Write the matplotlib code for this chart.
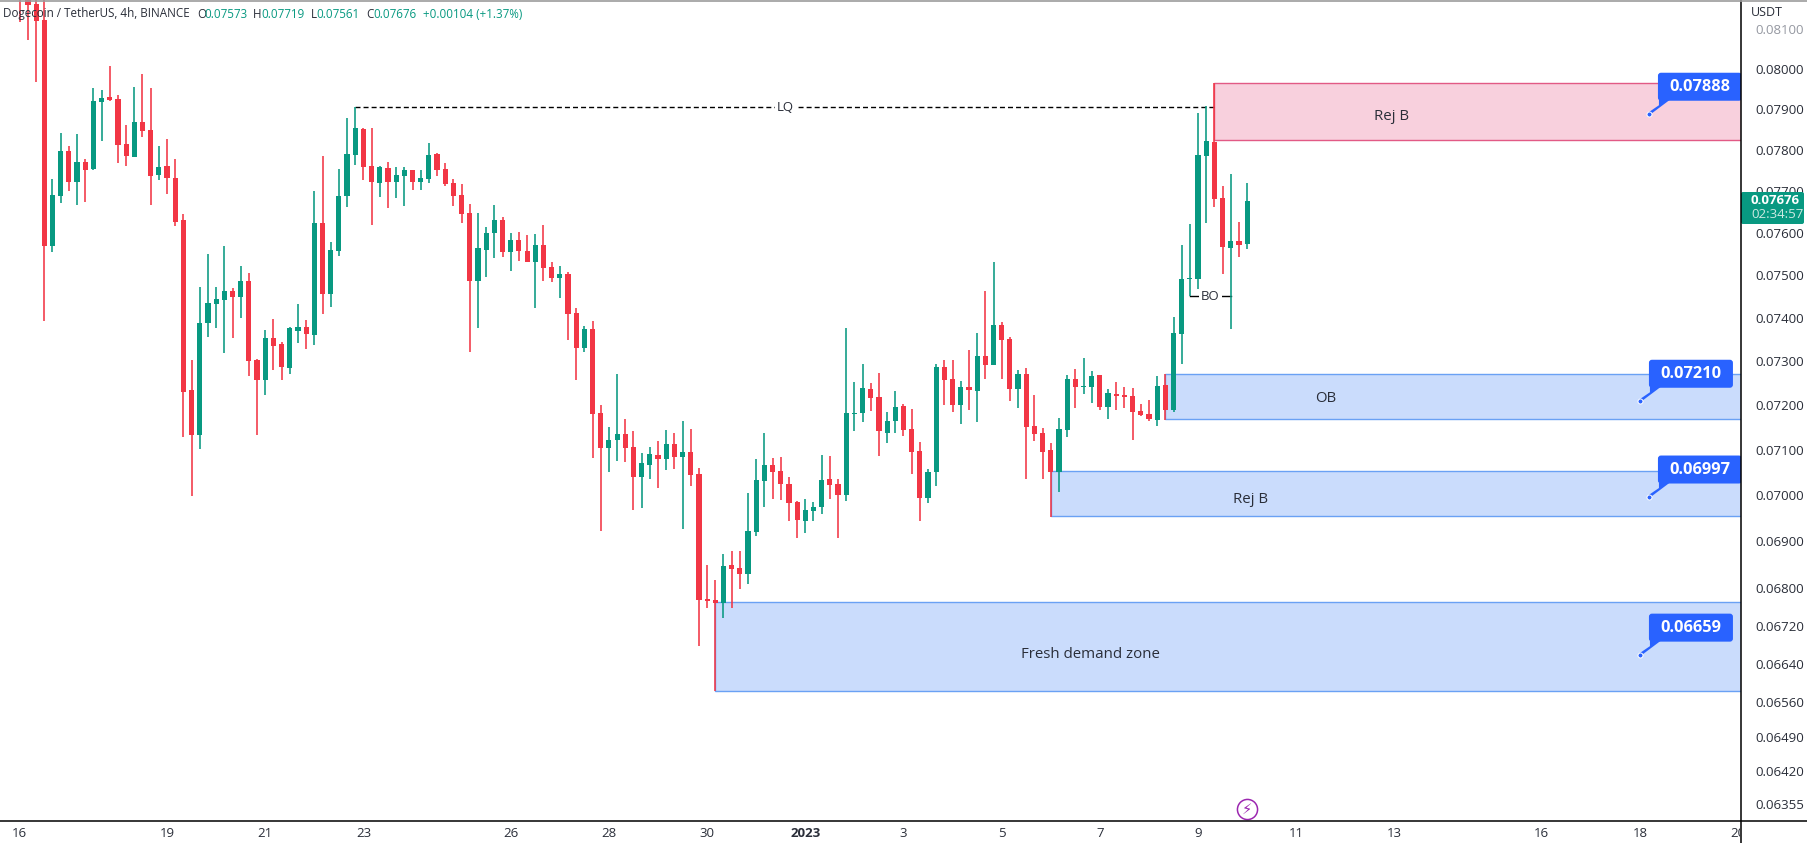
import numpy as np
import matplotlib
matplotlib.use("Agg")
import matplotlib.pyplot as plt
from matplotlib.patches import FancyBboxPatch, Polygon, Rectangle
from matplotlib.transforms import Affine2D, IdentityTransform
from matplotlib.ticker import NullLocator

plt.rcParams['font.family'] = ['Open Sans', 'DejaVu Sans']

# Precios, en unidades de 0.00001 USDT (velas de 4h)
first_bar = -3
opens = [8200, 8190, 8164, 8123, 7568, 7688, 7797, 7721, 7769, 7752, 7917, 7929, 7924, 7813, 7782, 7867, 7848, 7738, 7760, 7731,
         7630, 7235, 7134, 7388, 7432, 7441, 7462, 7448, 7486, 7303, 7258, 7354, 7340, 7285, 7370, 7379, 7361, 7623, 7455, 7556,
         7688, 7787, 7850, 7760, 7719, 7755, 7721, 7736, 7750, 7721, 7728, 7789, 7752, 7719, 7690, 7647, 7486, 7559, 7599, 7630,
         7554, 7582, 7556, 7530, 7570, 7518, 7493, 7502, 7411, 7331, 7374, 7183, 7104, 7122, 7136, 7107, 7039, 7067, 7089, 7080,
         7114, 7085, 7096, 7047, 6775, 6773, 6767, 6848, 6842, 6829, 6920, 7030, 7067, 7054, 7025, 6985, 6944, 6965, 6974, 7036,
         7025, 7001, 7181, 7183, 7237, 7219, 7138, 7165, 7199, 7147, 7098, 6994, 7050, 7287, 7260, 7201, 7242, 7233, 7312, 7291,
         7383, 7351, 7237, 7271, 7154, 7138, 7100, 7052, 7145, 7260, 7242, 7242, 7269, 7197, 7226, 7224, 7221, 7188, 7181, 7167,
         7246, 7190, 7363, 7490, 7490, 7784, 7818, 7683, 7563, 7580, 7573]
highs = [8210, 8200, 8190, 8180, 7728, 7841, 7809, 7838, 7777, 7952, 7947, 8007, 7934, 7860, 7954, 7987, 7952, 7809, 7825, 7777,
         7644, 7303, 7471, 7549, 7471, 7568, 7469, 7521, 7504, 7305, 7372, 7397, 7344, 7379, 7432, 7395, 7700, 7784, 7577, 7752,
         7877, 7904, 7853, 7853, 7760, 7769, 7757, 7757, 7750, 7750, 7816, 7792, 7767, 7728, 7716, 7668, 7647, 7613, 7666, 7637,
         7599, 7601, 7594, 7597, 7618, 7530, 7521, 7507, 7423, 7381, 7393, 7201, 7152, 7271, 7169, 7143, 7093, 7107, 7120, 7145,
         7138, 7165, 7147, 7060, 6848, 6816, 6872, 6879, 6879, 7005, 7080, 7138, 7082, 7085, 7041, 6987, 6991, 6985, 7089, 7087,
         7036, 7377, 7253, 7294, 7251, 7273, 7185, 7233, 7203, 7192, 7118, 7058, 7294, 7303, 7303, 7255, 7326, 7365, 7462, 7530,
         7390, 7356, 7280, 7285, 7224, 7149, 7116, 7172, 7269, 7282, 7308, 7278, 7269, 7237, 7253, 7242, 7239, 7203, 7212, 7267,
         7271, 7402, 7570, 7620, 7889, 7907, 7964, 7712, 7740, 7625, 7719]
lows = [8118, 8072, 7967, 7393, 7554, 7671, 7700, 7666, 7673, 7750, 7821, 7919, 7767, 7760, 7782, 7830, 7666, 7726, 7692, 7616,
        7129, 6998, 7102, 7356, 7377, 7319, 7354, 7400, 7267, 7134, 7224, 7280, 7258, 7271, 7342, 7328, 7338, 7409, 7425, 7544,
        7661, 7762, 7726, 7618, 7685, 7659, 7683, 7664, 7702, 7702, 7719, 7736, 7712, 7664, 7623, 7321, 7377, 7495, 7540, 7542,
        7509, 7533, 7530, 7423, 7486, 7483, 7446, 7349, 7258, 7321, 7082, 6922, 7052, 7076, 7074, 6968, 6972, 7036, 7016, 7056,
        7058, 6926, 7019, 6677, 6758, 6584, 6735, 6758, 6797, 6807, 6911, 6974, 6991, 6989, 6944, 6906, 6918, 6944, 6959, 6991,
        6906, 6987, 7141, 7163, 7188, 7087, 7116, 7138, 7131, 7047, 6944, 6983, 7021, 7201, 7185, 7158, 7190, 7163, 7260, 7291,
        7260, 7210, 7194, 7036, 7120, 7036, 6952, 7008, 7129, 7194, 7226, 7206, 7190, 7169, 7190, 7194, 7122, 7176, 7165, 7154,
        7167, 7185, 7294, 7450, 7467, 7623, 7661, 7502, 7374, 7542, 7561]
closes = [8180, 8161, 8120, 7568, 7690, 7797, 7721, 7769, 7750, 7919, 7927, 7922, 7811, 7784, 7867, 7845, 7736, 7757, 7731, 7625,
          7230, 7134, 7388, 7434, 7443, 7462, 7448, 7486, 7301, 7258, 7354, 7335, 7287, 7377, 7379, 7363, 7623, 7455, 7559, 7688,
          7789, 7853, 7757, 7721, 7757, 7721, 7738, 7750, 7721, 7731, 7787, 7750, 7716, 7688, 7644, 7486, 7563, 7599, 7630, 7554,
          7582, 7556, 7530, 7570, 7516, 7493, 7502, 7409, 7331, 7374, 7181, 7104, 7122, 7136, 7104, 7041, 7071, 7091, 7080, 7114,
          7085, 7096, 7045, 6773, 6771, 6767, 6846, 6840, 6829, 6922, 7034, 7067, 7052, 7025, 6983, 6946, 6968, 6974, 7034, 7023,
          7001, 7183, 7183, 7239, 7217, 7141, 7165, 7197, 7145, 7096, 6994, 7052, 7287, 7258, 7201, 7242, 7235, 7312, 7291, 7383,
          7349, 7237, 7271, 7152, 7136, 7096, 7052, 7147, 7260, 7242, 7244, 7267, 7197, 7228, 7221, 7219, 7185, 7179, 7169, 7244,
          7190, 7365, 7490, 7493, 7787, 7821, 7680, 7566, 7580, 7570, 7676]

# Eje de precios y de fechas
price_ticks = [0.081, 0.080, 0.079, 0.078, 0.077, 0.076, 0.075, 0.074, 0.073, 0.072, 0.071, 0.070, 0.069, 0.068,
               0.0672, 0.0664, 0.0656, 0.0649, 0.0642, 0.06355]
date_labels = ['16', '19', '21', '23', '26', '28', '30', '2023', '3', '5', '7', '9', '11', '13', '16', '18', '20']
date_bars = [-3, 15, 27, 39, 57, 69, 81, 93, 105, 117, 129, 141, 153, 165, 183, 195, 207]

# Zonas: barra inicial, precios y texto
zone_bars = [143, 137, 123, 82]
zone_tops = [0.07964, 0.07271, 0.07054, 0.06769]
zone_bottoms = [0.07823, 0.07169, 0.06955, 0.06584]
zone_texts = ['Rej B', 'OB', 'Rej B', 'Fresh demand zone']
zone_text_bars = [164.7, 156.6, 147.4, 127.8]
zone_text_prices = [0.07882, 0.07216, 0.06991, 0.06660]

# Etiquetas azules de precio
callout_prices = [0.07888, 0.07210, 0.06997, 0.06659]
callout_bars = [196.1, 195, 196.1, 195]

opens, highs, lows, closes = [np.array(a) / 1e5 for a in (opens, highs, lows, closes)]
bars = np.arange(first_bar, first_bar + len(opens))

GREEN = '#089981'
RED = '#F23645'
TEXT = '#2A2E39'
BLUE = '#2962FF'

fig = plt.figure(figsize=(18.08, 8.43), dpi=100)
ax = fig.add_axes([0, 22 / 843, 1741 / 1808, 821 / 843])
ax.set_yscale('log')
ax.set_xlim(-5.414, 207.35)
ax.set_ylim(0.06321, 0.08174)

# Velas
colors = [GREEN if c >= o else RED for o, c in zip(opens, closes)]
ax.vlines(bars, lows, highs, colors=colors, linewidth=1.15, zorder=3)
ax.bar(bars, np.abs(closes - opens), bottom=np.minimum(opens, closes), width=0.63, color=colors, linewidth=0, zorder=4)

# Zonas
for i in range(len(zone_bars)):
    pink = i == 0
    face = '#F8D0DD' if pink else '#CADCFC'
    edge = '#E25A85' if pink else '#6AA1F4'
    ax.add_patch(Rectangle((zone_bars[i], zone_bottoms[i]), 300, zone_tops[i] - zone_bottoms[i],
                           facecolor=face, edgecolor=edge, linewidth=1.0, zorder=1))
    ax.text(zone_text_bars[i], zone_text_prices[i], zone_texts[i], color=TEXT, fontsize=10.8,
            ha='center', va='center', zorder=5)

# Lineas LQ y BO
ax.plot([38, 143], [0.07904, 0.07904], color='black', linewidth=1, dashes=(3.6, 2.2), zorder=2)
ax.text(90.6, 0.07904, 'LQ', color=TEXT, fontsize=9.5, ha='center', va='center', zorder=5,
        bbox=dict(facecolor='white', edgecolor='none', pad=1.5))
ax.plot([140, 145], [0.0745, 0.0745], color='black', linewidth=1, zorder=2)
ax.text(142.5, 0.0745, 'BO', color=TEXT, fontsize=9.5, ha='center', va='center', zorder=5,
        bbox=dict(facecolor='white', edgecolor='none', pad=1.5))

# Etiquetas azules, ancladas en su precio
for b, p in zip(callout_bars, callout_prices):
    tx, ty = ax.transData.transform((b, p))
    ax.add_patch(Polygon([(tx - 1, ty + 1), (tx + 10, ty + 8.5), (tx + 10, ty + 14), (tx + 21, ty + 14), (tx + 1, ty - 1)],
                         closed=True, facecolor=BLUE, edgecolor='none',
                         transform=IdentityTransform(), clip_on=False, zorder=6))
    ax.add_patch(FancyBboxPatch((tx + 12, ty + 16), 78, 22, boxstyle='round,pad=3', facecolor=BLUE, edgecolor='none',
                                transform=IdentityTransform(), clip_on=True, zorder=6))
    ax.plot([b], [p], marker='o', markersize=3.6, markerfacecolor=BLUE, markeredgecolor='white', markeredgewidth=0.7,
            zorder=7)
    ax.text(tx + 51, ty + 27, '%.5f' % p, color='white', fontsize=11.8, fontweight='bold', ha='center', va='center',
            transform=IdentityTransform(), zorder=8)

# Icono del rayo
ax.plot([147], [0.06345], marker='o', markersize=14.5, markerfacecolor='white', markeredgecolor='#9C27B0',
        markeredgewidth=1.1, zorder=5)
ax.text(147, 0.06345, '\u26a1', color='#9C27B0', fontsize=10.5, ha='center', va='center', family='DejaVu Sans', zorder=6)

# Ejes
ax.yaxis.tick_right()
ax.set_yticks(price_ticks)
ax.set_yticklabels(['%.5f' % t for t in price_ticks])
ax.yaxis.set_minor_locator(NullLocator())
ax.tick_params(axis='y', length=0, pad=10, labelsize=9.5, labelcolor=TEXT)
ax.get_yticklabels()[0].set_color('#9598A1')
ax.set_xticks(date_bars)
ax.set_xticklabels(date_labels)
ax.tick_params(axis='x', length=0, pad=4, labelsize=9.5, labelcolor=TEXT)
for lbl in ax.get_xticklabels():
    if lbl.get_text() == '2023':
        lbl.set_fontweight('bold')
    lbl.set_clip_box(matplotlib.transforms.Bbox([[0, 0], [1740, 843]]))
    lbl.set_clip_on(True)
for side in ['top', 'left', 'right', 'bottom']:
    ax.spines[side].set_visible(False)

# Coordenadas en pixeles de la figura para los adornos fuera del area de precios
px = Affine2D().scale(1 / 1808, -1 / 843).translate(0, 1) + fig.transFigure
fig.add_artist(plt.Line2D([1741, 1741], [0, 843], color='black', linewidth=1.1, transform=px))
fig.add_artist(plt.Line2D([0, 1808], [821, 821], color='black', linewidth=1.1, transform=px))
fig.add_artist(plt.Line2D([0, 1808], [0.5, 0.5], color='#9C9C9C', linewidth=1.2, transform=px))
fig.add_artist(FancyBboxPatch((1743, 194), 59, 28, boxstyle='round,pad=2', facecolor=GREEN, edgecolor='none', transform=px))
fig.text(1751, 201, '0.07676', color='white', fontsize=9.5, fontweight='bold', va='center', transform=px)
fig.text(1751, 214, '02:34:57', color='#CDE9E2', fontsize=9.5, va='center', transform=px)
fig.text(1751, 13, 'USDT', color=TEXT, fontsize=9, va='center', transform=px)

# Cabecera
fig.text(3, 14, 'Dogecoin / TetherUS, 4h, BINANCE', color=TEXT, fontsize=8.35, va='center', transform=px)
head_x = [197, 204, 253, 261, 311, 316, 366, 373, 423]
head_txt = ['O', '0.07573', 'H', '0.07719', 'L', '0.07561', 'C', '0.07676', '+0.00104 (+1.37%)']
for i in range(len(head_x)):
    is_value = i % 2 == 1 or i == 8
    fig.text(head_x[i], 14, head_txt[i], color=GREEN if is_value else TEXT, fontsize=8.35, va='center', transform=px)

fig.savefig('out.png', dpi=100, facecolor='white')
